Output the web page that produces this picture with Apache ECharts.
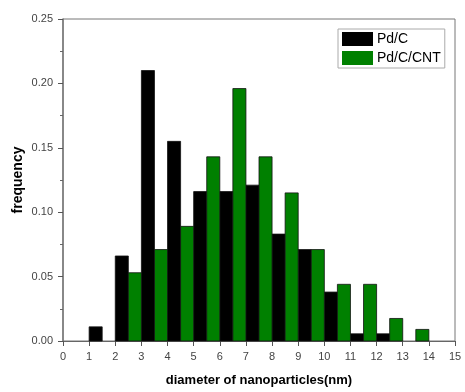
<!DOCTYPE html>
<html>
<head>
<meta charset="utf-8">
<script src="https://cdn.jsdelivr.net/npm/echarts@6/dist/echarts.min.js"></script>
<style>
html,body{margin:0;padding:0;background:#fff;}
#chart{width:465px;height:392px;}
</style>
</head>
<body>
<div id="chart"></div>
<script>
// Data
var binWidth = 0.5;
var pdcStarts = [1, 2, 3, 4, 5, 6, 7, 8, 9, 10, 11, 12];
var pdcValues = [0.011, 0.066, 0.21, 0.155, 0.116, 0.116, 0.121, 0.083, 0.071, 0.038, 0.0056, 0.0056];
var cntStarts = [2.5, 3.5, 4.5, 5.5, 6.5, 7.5, 8.5, 9.5, 10.5, 11.5, 12.5, 13.5];
var cntValues = [0.053, 0.071, 0.089, 0.143, 0.196, 0.143, 0.115, 0.071, 0.044, 0.044, 0.0175, 0.009];
var seriesNames = ['Pd/C', 'Pd/C/CNT'];
var xTitle = 'diameter of nanoparticles(nm)';
var yTitle = 'frequency';

function toItems(starts, values) {
  return starts.map(function (s, i) { return [s, s + binWidth, values[i]]; });
}

function renderBar(params, api) {
  var p0 = api.coord([api.value(0), api.value(2)]);
  var p1 = api.coord([api.value(1), 0]);
  return {
    type: 'rect',
    shape: { x: p0[0], y: p0[1], width: p1[0] - p0[0], height: p1[1] - p0[1] },
    style: api.style({ stroke: '#111', lineWidth: 0.8 })
  };
}

var chart = echarts.init(document.getElementById('chart'), null, { renderer: 'canvas' });
var labelStyle = { color: '#444', fontSize: 11, fontFamily: 'Liberation Sans, Arial, sans-serif' };
chart.setOption({
  animation: false,
  backgroundColor: '#fff',
  grid: { left: 63, right: 10, top: 19, bottom: 50, show: true, borderColor: '#777', borderWidth: 1 },
  legend: {
    orient: 'vertical',
    left: 338, top: 29,
    padding: [3, 4, 3, 4],
    itemGap: 5,
    itemWidth: 31, itemHeight: 14,
    borderColor: '#aaa', borderWidth: 1,
    backgroundColor: '#fff',
    icon: 'rect',
    textStyle: { color: '#000', fontSize: 14, fontFamily: 'Liberation Sans, Arial, sans-serif', padding: [0, 0, 0, -1] },
    data: seriesNames
  },
  xAxis: {
    type: 'value', min: 0, max: 15, interval: 1,
    name: xTitle, nameLocation: 'middle', nameGap: 33, nameMoveOverlap: false,
    nameTextStyle: { fontSize: 13, fontWeight: 'bold', color: '#000', fontFamily: 'Liberation Sans, Arial, sans-serif' },
    axisLine: { lineStyle: { color: '#666', width: 1 } },
    axisTick: { show: true, inside: false, length: 5, lineStyle: { color: '#555' } },
    axisLabel: Object.assign({ margin: 10 }, labelStyle),
    splitLine: { show: false }
  },
  yAxis: {
    type: 'value', min: 0, max: 0.25, interval: 0.05,
    name: yTitle, nameLocation: 'middle', nameGap: 38, nameRotate: 90, nameMoveOverlap: false,
    nameTextStyle: { fontSize: 14, fontWeight: 'bold', color: '#000', fontFamily: 'Liberation Sans, Arial, sans-serif' },
    axisLine: { show: true, lineStyle: { color: '#777', width: 1.5 } },
    axisTick: { show: true, inside: false, length: 5, lineStyle: { color: '#555' } },
    minorTick: { show: true, splitNumber: 2, length: 3, lineStyle: { color: '#666' } },
    axisLabel: Object.assign({ margin: 10, formatter: function (v) { return v.toFixed(2); } }, labelStyle),
    splitLine: { show: false }
  },
  series: [
    {
      name: seriesNames[0], type: 'custom', renderItem: renderBar,
      itemStyle: { color: '#000000' },
      encode: { x: [0, 1], y: 2 },
      data: toItems(pdcStarts, pdcValues)
    },
    {
      name: seriesNames[1], type: 'custom', renderItem: renderBar,
      itemStyle: { color: '#008000' },
      encode: { x: [0, 1], y: 2 },
      data: toItems(cntStarts, cntValues)
    }
  ]
});
</script>
</body>
</html>
